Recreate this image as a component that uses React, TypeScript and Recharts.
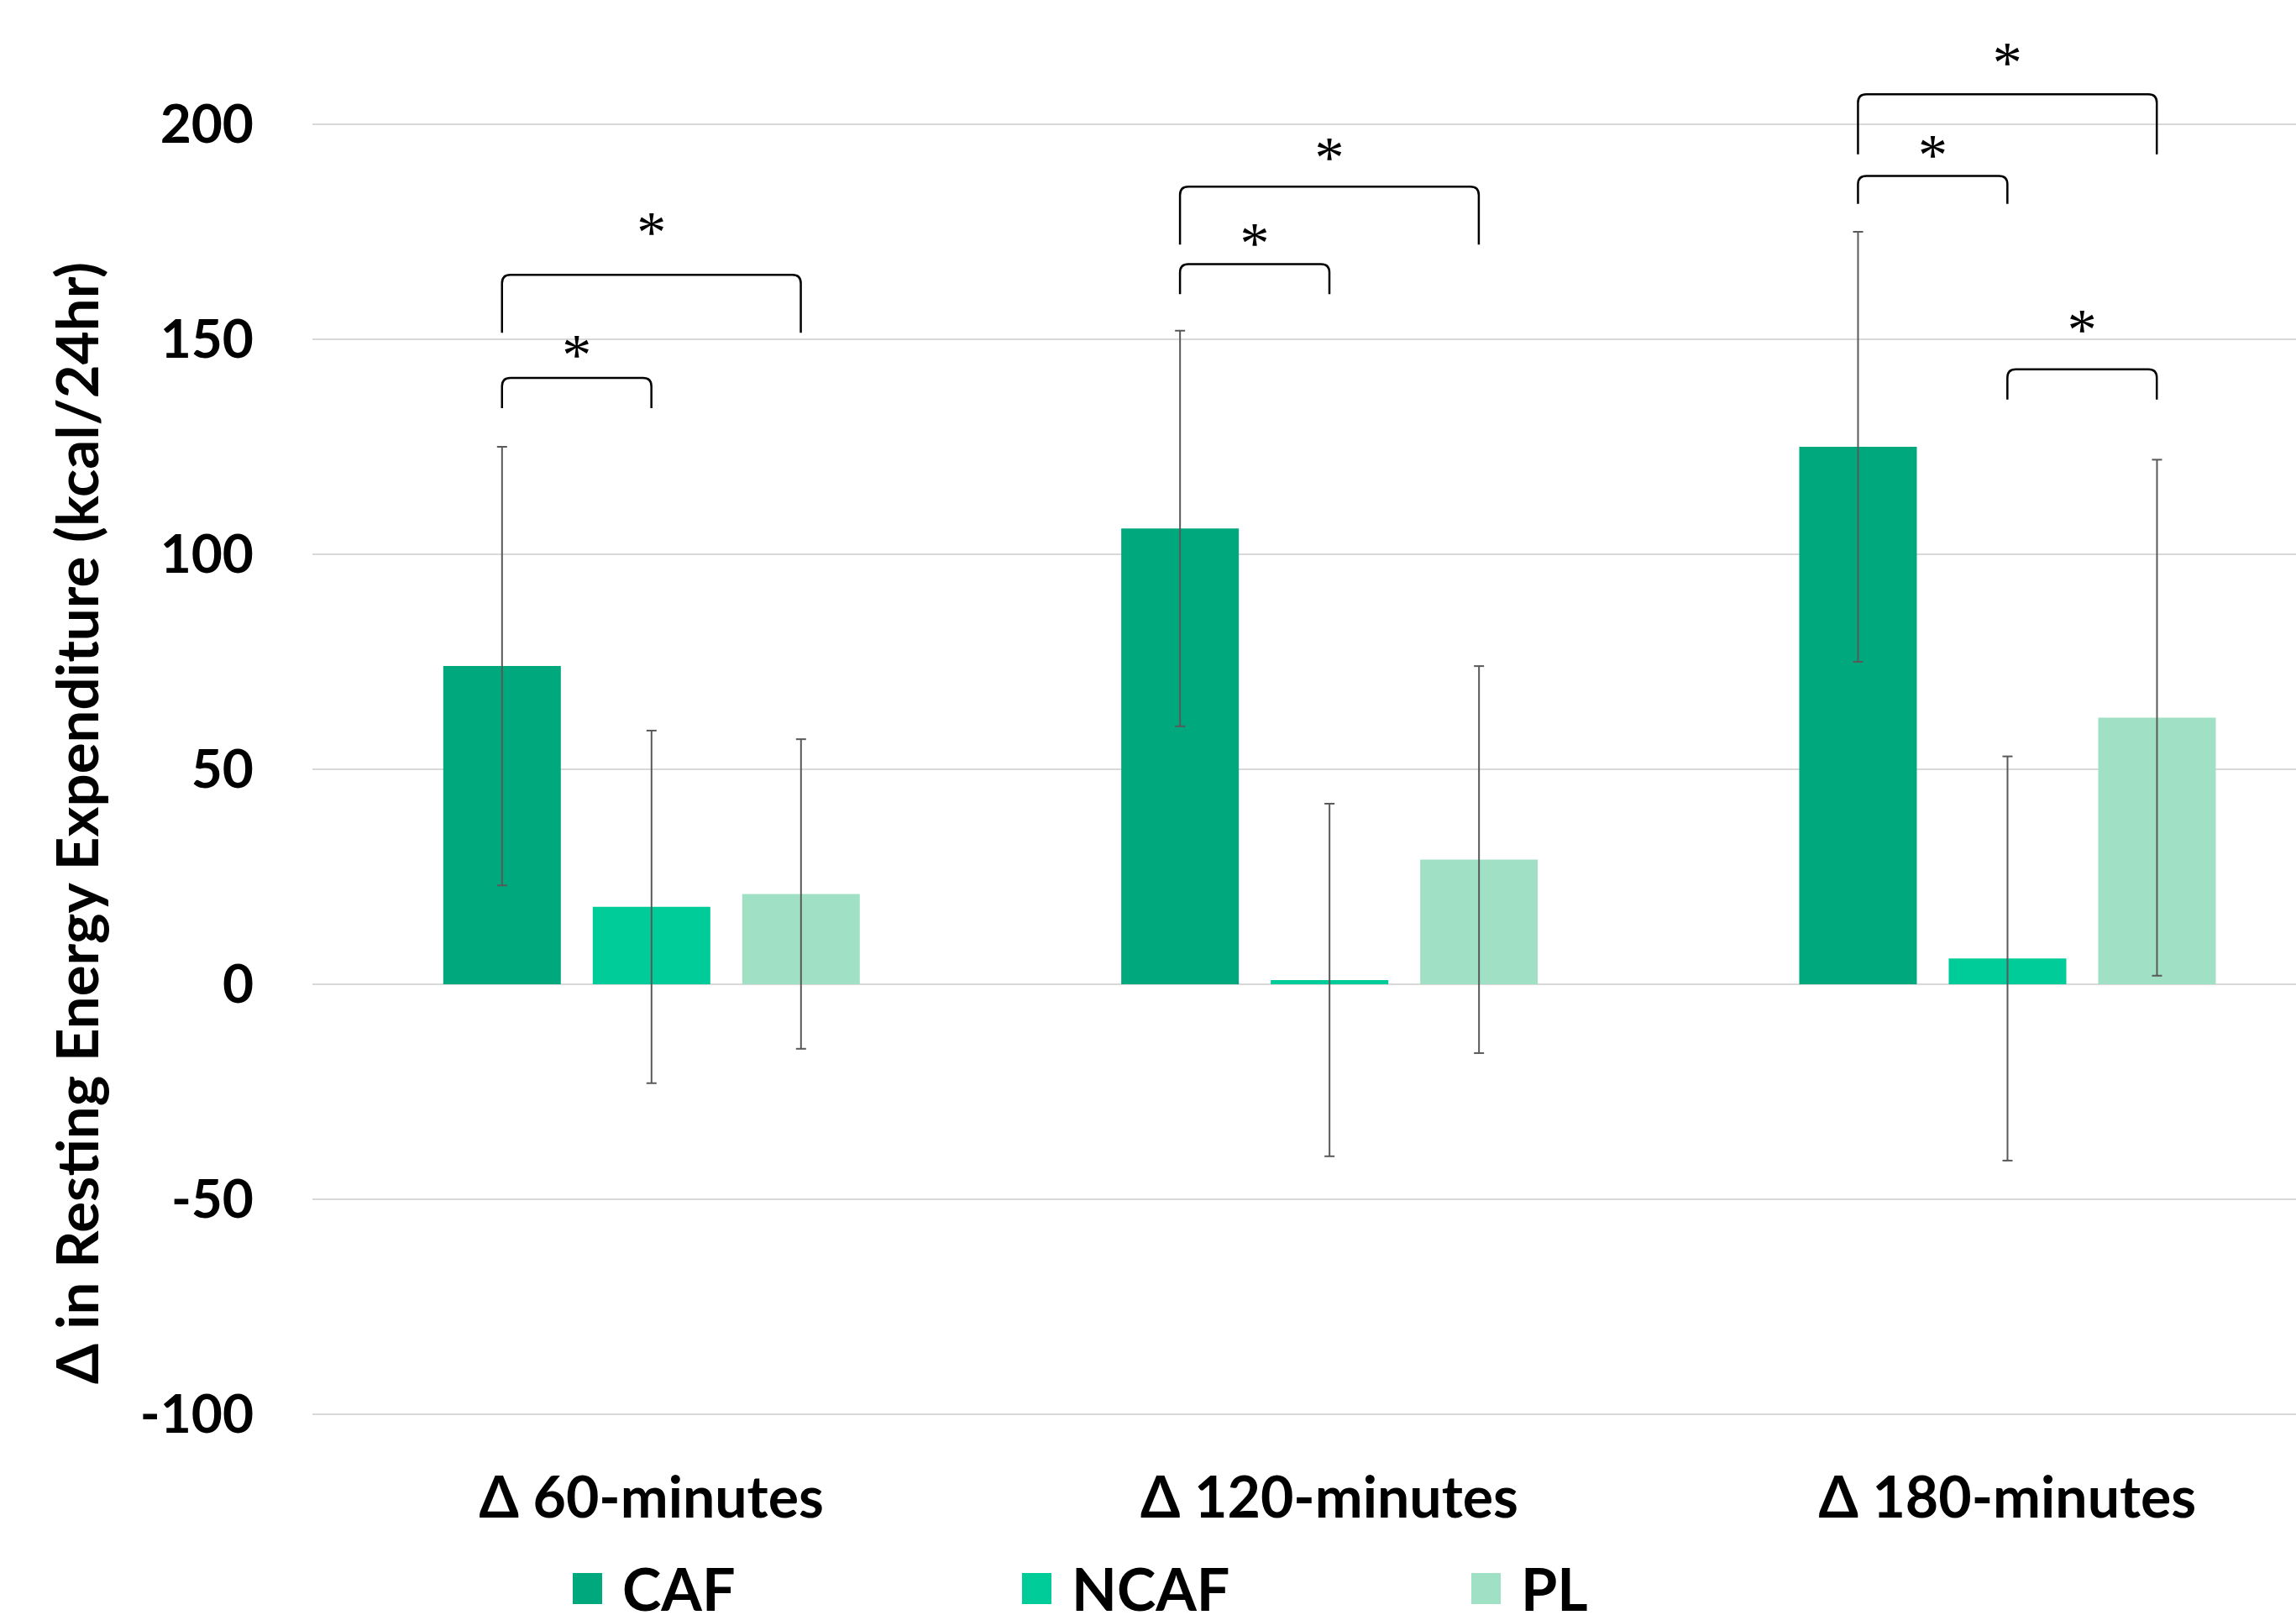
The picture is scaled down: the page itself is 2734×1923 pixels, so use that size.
import { BarChart, Bar, XAxis, YAxis, CartesianGrid, ErrorBar, ReferenceLine, ReferenceDot, Label } from "recharts"

const categories = ["Δ 60-minutes", "Δ 120-minutes", "Δ 180-minutes"]
const cafValues = [74, 106, 125]
const cafErrors = [51, 46, 50]
const ncafValues = [18, 1, 6]
const ncafErrors = [41, 41, 47]
const plValues = [21, 29, 62]
const plErrors = [36, 45, 60]
const yTicks = [-100, -50, 0, 50, 100, 150, 200]

const seriesNames = ["CAF", "NCAF", "PL"]
const seriesColors = ["#00A87D", "#00CC99", "#A0E1C6"]

// significance brackets: category, bar slot from / to, leg end, bracket top, star level
const bracketCats = [0, 0, 1, 1, 2, 2, 2]
const bracketFrom = [0, 0, 0, 0, 0, 0, 1]
const bracketTo = [1, 2, 1, 2, 1, 2, 2]
const bracketBottom = [134, 151.5, 160.5, 172, 181.5, 193, 136]
const bracketTop = [141, 165, 167.5, 185.5, 188, 207, 143]
const starLevel = [148, 176.5, 174, 194, 194.5, 216, 154]

const chartData = categories.map((name, i) => ({
  name,
  caf: cafValues[i],
  cafErr: cafErrors[i],
  ncaf: ncafValues[i],
  ncafErr: ncafErrors[i],
  pl: plValues[i],
  plErr: plErrors[i],
}))

// layout
const CHART_W = 2794
const CHART_H = 1923
const PLOT_LEFT = 372
const PLOT_TOP = 148
const PLOT_BOTTOM = 1684
const XAXIS_H = 96
const CAT_GAP = 0.193
const BAR_GAP = 38
const FONT = "Lato, 'Open Sans', sans-serif"

const band = (CHART_W - PLOT_LEFT) / categories.length
const barW = (band * (1 - 2 * CAT_GAP) - 2 * BAR_GAP) / 3
// px offset of bar slot k from the category centre
const slotOffset = (k: number) => (k - 1) * (barW + BAR_GAP)

const makeBracket = (from: number, to: number) => (props: any) => {
  const { x1, y1, y2 } = props
  const a = x1 + slotOffset(from)
  const b = x1 + slotOffset(to)
  const r = 10
  const d = `M${a},${y1} L${a},${y2 + r} Q${a},${y2} ${a + r},${y2} L${b - r},${y2} Q${b},${y2} ${b},${y2 + r} L${b},${y1}`
  return <path d={d} fill="none" stroke="#000" strokeWidth={2.5} />
}

const makeStar = (from: number, to: number) => (props: any) => (
  <text
    x={props.cx + (slotOffset(from) + slotOffset(to)) / 2}
    y={props.cy + 32}
    textAnchor="middle"
    fontFamily="'Liberation Serif', serif"
    fontSize={70}
    fill="#000"
  >
    *
  </text>
)

const YTick = ({ x, y, payload }: any) => (
  <text x={x} y={y - 3} textAnchor="end" dominantBaseline="central" fontFamily={FONT} fontWeight={700} fontSize={64} fill="#000">
    {payload.value}
  </text>
)

const XTick = ({ x, y, payload }: any) => (
  <text x={x} y={y + 96} textAnchor="middle" dominantBaseline="central" fontFamily={FONT} fontWeight={700} fontSize={68} fill="#000">
    {payload.value}
  </text>
)

export default function App() {
  return (
    <div style={{ position: "fixed", left: 0, top: 0, width: 2734, height: 1923, overflow: "hidden", background: "#fff" }}>
      <BarChart
        width={CHART_W}
        height={CHART_H}
        data={chartData}
        margin={{ top: PLOT_TOP, right: 0, left: 0, bottom: CHART_H - PLOT_BOTTOM - XAXIS_H }}
        barCategoryGap={`${CAT_GAP * 100}%`}
        barGap={BAR_GAP}
      >
        <CartesianGrid vertical={false} stroke="#D9D9D9" strokeWidth={2} />
        <XAxis dataKey="name" axisLine={false} tickLine={false} tickSize={0} tickMargin={0} height={XAXIS_H} tick={<XTick />} />
        <YAxis
          domain={[-100, 200]}
          ticks={yTicks}
          axisLine={false}
          tickLine={false}
          tickSize={0}
          tickMargin={70}
          width={PLOT_LEFT}
          tick={<YTick />}
          interval={0}
        >
          <Label
            content={() => (
              <text
                x={90}
                y={980}
                transform="rotate(-90, 90, 980)"
                textAnchor="middle"
                dominantBaseline="central"
                fontFamily={FONT}
                fontWeight={700}
                fontSize={69}
                fill="#000"
              >
                Δ in Resting Energy Expenditure (kcal/24hr)
              </text>
            )}
          />
        </YAxis>
        <Bar dataKey="caf" name={seriesNames[0]} fill={seriesColors[0]} isAnimationActive={false}>
          <ErrorBar dataKey="cafErr" width={6} stroke="#595959" strokeWidth={2} direction="y" isAnimationActive={false} />
        </Bar>
        <Bar dataKey="ncaf" name={seriesNames[1]} fill={seriesColors[1]} isAnimationActive={false}>
          <ErrorBar dataKey="ncafErr" width={6} stroke="#595959" strokeWidth={2} direction="y" isAnimationActive={false} />
        </Bar>
        <Bar dataKey="pl" name={seriesNames[2]} fill={seriesColors[2]} isAnimationActive={false}>
          <ErrorBar dataKey="plErr" width={6} stroke="#595959" strokeWidth={2} direction="y" isAnimationActive={false} />
        </Bar>
        {bracketCats.map((cat, i) => (
          <ReferenceLine
            key={`br-${i}`}
            ifOverflow="visible"
            segment={[
              { x: categories[cat], y: bracketBottom[i] },
              { x: categories[cat], y: bracketTop[i] },
            ]}
            shape={makeBracket(bracketFrom[i], bracketTo[i])}
          />
        ))}
        {bracketCats.map((cat, i) => (
          <ReferenceDot
            key={`st-${i}`}
            ifOverflow="visible"
            x={categories[cat]}
            y={starLevel[i]}
            r={0}
            shape={makeStar(bracketFrom[i], bracketTo[i])}
          />
        ))}
      </BarChart>
      <div style={{ position: "absolute", left: 0, top: 1856, height: 70, display: "flex", paddingLeft: 682 }}>
        {seriesNames.map((s, i) => (
          <div key={s} style={{ width: 535, display: "flex", alignItems: "center" }}>
            <div style={{ width: 35, height: 37, background: seriesColors[i] }} />
            <span style={{ marginLeft: 24, fontFamily: FONT, fontWeight: 700, fontSize: 70, lineHeight: 1, color: "#000" }}>{s}</span>
          </div>
        ))}
      </div>
    </div>
  )
}
